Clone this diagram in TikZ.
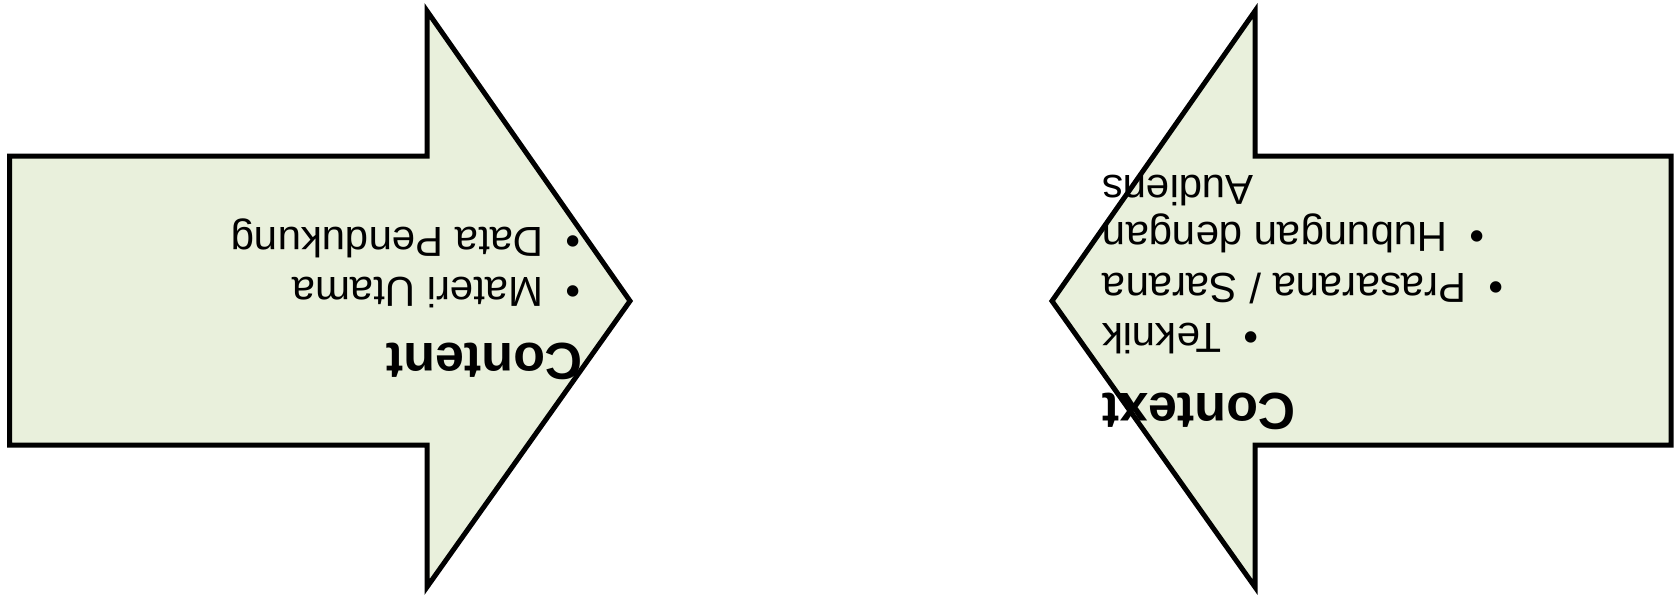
\documentclass[tikz,border=0pt]{standalone}
\usepackage{fontspec}
\setmainfont{Liberation Sans}
\definecolor{arrowfill}{HTML}{E9F0DC}
\newcommand\itembullet{\makebox[37pt][l]{•}}
\begin{document}
\begin{tikzpicture}[x=1pt,y=-1pt,
  arrowshape/.style={draw=black, line width=5pt, fill=arrowfill, line join=miter},
  titletext/.style={font=\fontsize{52}{62}\selectfont\bfseries, inner sep=0pt, rotate=180},
  itemtext/.style={font=\fontsize{42}{50}\selectfont, inner sep=0pt, rotate=180}]
\useasboundingbox (0,0) rectangle (1675,597);
% left arrow (pointing right)
\draw[arrowshape] (9.5,156) -- (427,156) -- (427,11) -- (630,301) -- (427,587) -- (427,445) -- (9.5,445) -- cycle;
% right arrow (pointing left)
\draw[arrowshape] (1671,156) -- (1255,156) -- (1255,11) -- (1052,301) -- (1255,587) -- (1255,445) -- (1671,445) -- cycle;
% texts of left arrow
\node[titletext, anchor=base west] (content) at (583,343) {Content};
\node[itemtext, anchor=base west] (materi) at (581,277) {\itembullet Materi Utama};
\node[itemtext, anchor=base west] (data) at (581,227) {\itembullet Data Pendukung};
% texts of right arrow
\node[titletext, anchor=base east] (context) at (1102,393) {Context};
\node[itemtext, anchor=base east] (teknik) at (1102,323) {\itembullet Teknik};
\node[itemtext, anchor=base east] (prasarana) at (1102,273) {\itembullet Prasarana / Sarana};
\node[itemtext, anchor=base east] (hubungan) at (1102,222) {\itembullet Hubungan dengan};
\node[itemtext, anchor=base east] (audiens) at (1102,175) {Audiens};
\end{tikzpicture}
\end{document}
